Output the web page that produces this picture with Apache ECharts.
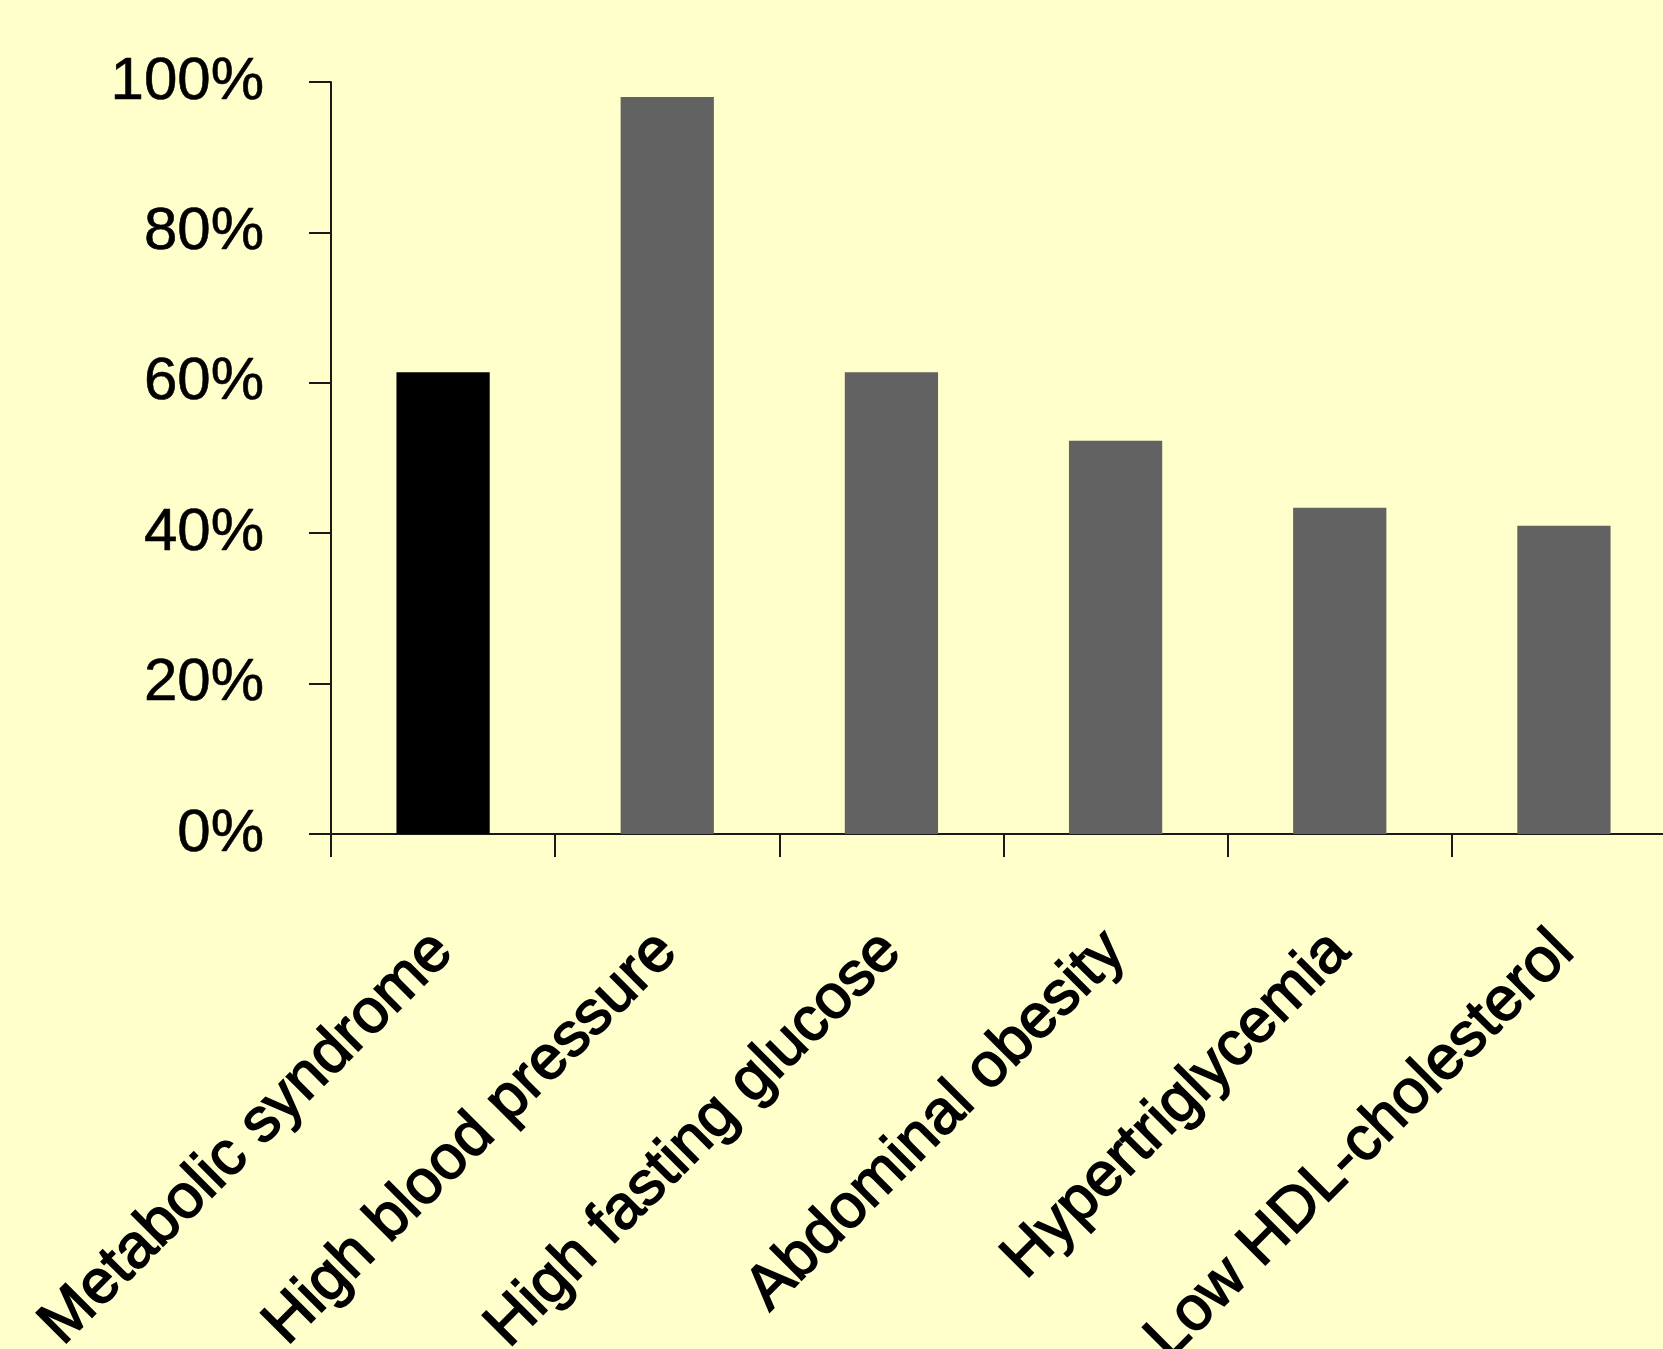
<!DOCTYPE html>
<html>
<head>
<meta charset="utf-8">
<script src="https://cdn.jsdelivr.net/npm/echarts@6/dist/echarts.min.js"></script>
<style>
  html, body { margin: 0; padding: 0; background: #ffffcc; }
  #chart { width: 1663px; height: 1349px; }
</style>
</head>
<body>
<div id="chart"></div>
<script>
// Prevalence of metabolic syndrome and its components
const categories = [
  'Metabolic syndrome',
  'High blood pressure',
  'High fasting glucose',
  'Abdominal obesity',
  'Hypertriglycemia',
  'Low HDL-cholesterol'
];
const prevalence = [61.4, 98, 61.4, 52.3, 43.4, 41];
const yTicks = [0, 20, 40, 60, 80, 100];

const FONT = '"Liberation Sans Narrow", "Arial Narrow", "Liberation Sans", Arial, sans-serif';
const AXIS_COLOR = '#1a1a1a';

const chart = echarts.init(document.getElementById('chart'), null, { renderer: 'canvas' });

chart.setOption({
  backgroundColor: '#ffffcc',
  animation: false,
  grid: {
    left: 331,
    top: 82,
    right: -13,
    bottom: 515,
    containLabel: false,
    outerBoundsMode: 'none'
  },
  xAxis: {
    type: 'category',
    data: categories,
    axisLine: { show: true, lineStyle: { color: AXIS_COLOR, width: 2 } },
    axisTick: { show: true, length: 23, lineStyle: { color: AXIS_COLOR, width: 2 } },
    axisLabel: {
      interval: 0,
      rotate: 45,
      margin: 108,
      color: '#000',
      fontFamily: FONT,
      fontSize: 62,
      textBorderColor: '#000',
      textBorderWidth: 1.6
    },
    splitLine: { show: false }
  },
  yAxis: {
    type: 'value',
    min: yTicks[0],
    max: yTicks[yTicks.length - 1],
    interval: yTicks[1] - yTicks[0],
    axisLine: { show: true, lineStyle: { color: AXIS_COLOR, width: 2 } },
    axisTick: { show: true, inside: false, length: 22, lineStyle: { color: AXIS_COLOR, width: 2 } },
    axisLabel: {
      formatter: '{value}%',
      margin: 67,
      color: '#000',
      fontFamily: FONT,
      fontSize: 60,
      textBorderColor: '#000',
      textBorderWidth: 0.6
    },
    splitLine: { show: false }
  },
  series: [{
    type: 'bar',
    data: prevalence,
    barWidth: '41.6%',
    itemStyle: {
      color: (p) => (p.dataIndex === 0 ? '#000000' : '#626262')
    }
  }]
});
</script>
</body>
</html>
